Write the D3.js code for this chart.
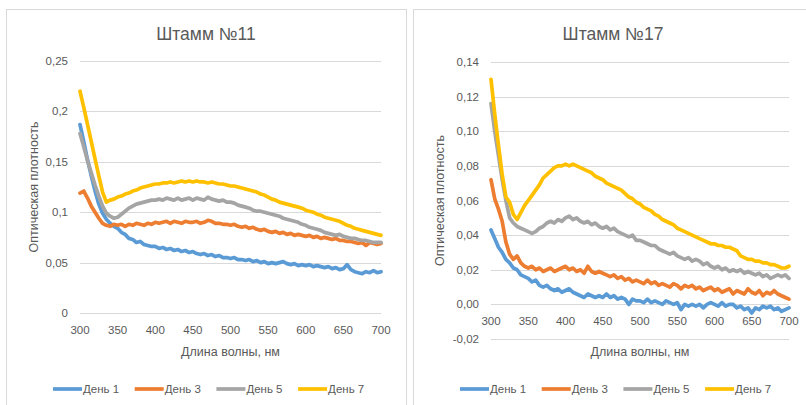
<!DOCTYPE html>
<html>
<head>
<meta charset="utf-8">
<script src="https://cdn.jsdelivr.net/npm/d3@7"></script>
<style>
  body { margin: 0; background: #fff; }
  svg text { font-family: "Liberation Sans", Arial, sans-serif; fill: #595959; }
  .grid line { stroke: #d9d9d9; stroke-width: 1; }
  .series { fill: none; stroke-width: 3.7; stroke-linejoin: round; stroke-linecap: round; }
</style>
</head>
<body>
<svg id="chart" width="806" height="405"></svg>
<script>
// wavelength, nm (every 5 nm)
var wavelengths = d3.range(300, 701, 5);

var dayNames = ["День 1", "День 3", "День 5", "День 7"];
var dayColors = ["#5b9bd5", "#ed7d31", "#a5a5a5", "#ffc000"];

// Штамм №11
var s11day1 = [.187,.170,.152,.136,.121,.108,.099,.093,.089,.086,.084,.080,.078,.074,.073,.070,.071,.068,.067,.066,
  .066,.064,.065,.063,.064,.062,.063,.061,.062,.060,.061,.059,.058,.059,.057,.058,.056,.057,.055,.055,
  .054,.055,.053,.053,.052,.053,.051,.052,.050,.051,.049,.050,.049,.050,.051,.049,.048,.049,.047,.048,
  .047,.048,.046,.047,.046,.045,.046,.044,.045,.043,.044,.048,.043,.041,.040,.039,.041,.040,.042,.040,.041];
var s11day3 = [.119,.121,.114,.106,.100,.094,.089,.087,.086,.088,.087,.088,.086,.088,.087,.089,.088,.087,.089,.088,
  .090,.089,.090,.091,.089,.091,.090,.089,.091,.090,.090,.091,.089,.090,.092,.091,.089,.089,.088,.088,
  .087,.088,.086,.085,.086,.084,.085,.083,.082,.083,.081,.080,.081,.079,.080,.078,.079,.077,.078,.077,
  .076,.077,.075,.076,.074,.075,.074,.073,.074,.072,.072,.071,.071,.070,.069,.070,.067,.070,.069,.068,.069];
var s11day5 = [.178,.165,.151,.139,.127,.116,.106,.099,.096,.094,.095,.098,.101,.104,.106,.108,.109,.110,.111,.112,
  .112,.113,.112,.114,.113,.112,.114,.112,.113,.114,.112,.114,.113,.112,.115,.113,.112,.111,.112,.110,
  .110,.109,.107,.106,.105,.104,.102,.101,.101,.100,.099,.098,.097,.096,.094,.093,.092,.091,.090,.088,
  .087,.085,.084,.083,.082,.080,.079,.078,.077,.078,.076,.075,.074,.074,.073,.072,.072,.071,.070,.070,.070];
var s11day7 = [.220,.204,.187,.170,.153,.136,.120,.110,.112,.113,.115,.116,.118,.119,.121,.122,.124,.125,.126,.127,
  .128,.128,.129,.129,.130,.129,.130,.131,.130,.131,.130,.131,.130,.130,.129,.130,.129,.128,.128,.127,
  .126,.126,.125,.124,.123,.122,.121,.120,.118,.117,.115,.113,.112,.110,.109,.108,.107,.106,.105,.104,
  .102,.101,.100,.098,.097,.095,.094,.093,.092,.091,.089,.087,.086,.084,.083,.082,.081,.080,.079,.078,.077];

// Штамм №17
var s17day1 = [.043,.038,.033,.030,.026,.024,.021,.020,.017,.016,.015,.013,.014,.011,.010,.011,.009,.008,.009,.007,
  .008,.009,.007,.006,.005,.004,.006,.005,.004,.005,.004,.006,.004,.005,.003,.004,.003,.000,.003,.002,
  .002,.001,.003,.001,.002,.001,.000,.002,.001,.000,.001,-.003,.000,-.001,.000,-.001,.000,-.002,.000,.001,
  .000,-.001,.001,-.001,.000,.000,-.002,-.001,-.003,-.002,-.005,-.002,-.003,-.001,-.002,-.001,-.003,-.002,-.004,-.003,-.002];
var s17day3 = [.072,.061,.055,.048,.036,.029,.026,.028,.024,.022,.021,.022,.020,.021,.019,.020,.021,.019,.020,.021,
  .022,.020,.021,.019,.020,.018,.022,.019,.018,.019,.018,.017,.016,.017,.015,.016,.014,.015,.013,.014,
  .013,.012,.014,.012,.013,.011,.012,.011,.010,.012,.011,.009,.011,.010,.011,.009,.010,.008,.009,.010,
  .008,.009,.007,.008,.009,.006,.008,.007,.006,.009,.007,.006,.008,.005,.007,.006,.008,.006,.005,.004,.003];
var s17day5 = [.116,.100,.086,.072,.060,.050,.047,.045,.044,.043,.042,.041,.042,.044,.045,.047,.048,.047,.049,.048,
  .050,.051,.049,.050,.048,.047,.048,.046,.047,.045,.044,.045,.043,.044,.042,.041,.040,.039,.040,.037,
  .037,.036,.035,.034,.034,.032,.031,.030,.029,.030,.028,.027,.026,.027,.025,.026,.025,.023,.024,.022,
  .021,.022,.020,.021,.019,.020,.019,.020,.018,.019,.018,.017,.018,.016,.017,.015,.016,.017,.016,.017,.015];
var s17day7 = [.130,.110,.092,.075,.062,.059,.052,.049,.053,.057,.060,.063,.066,.069,.073,.075,.077,.079,.080,.080,
  .081,.080,.081,.080,.079,.078,.077,.076,.074,.073,.072,.070,.069,.068,.067,.066,.064,.062,.061,.059,
  .058,.056,.055,.054,.052,.051,.049,.048,.047,.046,.044,.043,.042,.041,.040,.039,.038,.037,.036,.035,
  .035,.034,.034,.033,.033,.032,.031,.028,.027,.026,.026,.025,.025,.024,.024,.023,.023,.022,.021,.021,.022];

var xTicks = [300, 350, 400, 450, 500, 550, 600, 650, 700];
var s11yTicks = [0, 0.05, 0.1, 0.15, 0.2, 0.25];
var s11yLabels = ["0", "0,05", "0,1", "0,15", "0,2", "0,25"];
var s17yTicks = [-0.02, 0, 0.02, 0.04, 0.06, 0.08, 0.10, 0.12, 0.14];
var s17yLabels = ["-0,02", "0,00", "0,02", "0,04", "0,06", "0,08", "0,10", "0,12", "0,14"];

var svg = d3.select("#chart");

function drawChart(cfg) {
  var g = svg.append("g");

  g.append("rect")
    .attr("x", cfg.frameX + 0.5).attr("y", 9.5)
    .attr("width", 400).attr("height", 420)
    .attr("fill", "#fff").attr("stroke", "#d9d9d9");

  var x = d3.scaleLinear().domain([300, 700]).range([cfg.left, cfg.right]);
  var y = d3.scaleLinear().domain(cfg.yDomain).range([cfg.bottom, cfg.top]);

  // gridlines
  g.append("g").attr("class", "grid")
    .selectAll("line").data(cfg.yTicks).enter().append("line")
    .attr("x1", cfg.left).attr("x2", cfg.right)
    .attr("y1", function(d) { return Math.round(y(d)) + 0.5; })
    .attr("y2", function(d) { return Math.round(y(d)) + 0.5; });

  // y tick labels
  g.selectAll(".ylab").data(cfg.yTicks).enter().append("text")
    .attr("class", "ylab")
    .attr("x", cfg.left - 12)
    .attr("y", function(d) { return y(d); })
    .attr("dy", "0.35em")
    .attr("text-anchor", "end")
    .style("font-size", "11.5px")
    .text(function(d, i) { return cfg.yLabels[i]; });

  // x tick labels (sit at the zero line)
  var y0 = y(0);
  g.selectAll(".xlab").data(xTicks).enter().append("text")
    .attr("class", "xlab")
    .attr("x", function(d) { return x(d); })
    .attr("y", y0 + 17)
    .attr("dy", "0.35em")
    .attr("text-anchor", "middle")
    .style("font-size", "11.5px")
    .text(function(d) { return d; });

  // series
  var line = d3.line()
    .x(function(d, i) { return x(wavelengths[i]); })
    .y(function(d) { return y(d); });

  cfg.series.forEach(function(s, i) {
    g.append("path")
      .attr("class", "series")
      .attr("d", line(s))
      .attr("stroke", dayColors[i]);
  });

  // title
  g.append("text")
    .attr("x", cfg.titleX).attr("y", 40)
    .attr("text-anchor", "middle")
    .style("font-size", "17.5px")
    .text(cfg.title);

  // axis titles
  g.append("text")
    .attr("x", (cfg.left + cfg.right) / 2).attr("y", 356)
    .attr("text-anchor", "middle")
    .style("font-size", "12.5px")
    .text("Длина волны, нм");

  g.append("text")
    .attr("transform", "translate(" + cfg.yTitleX + "," + ((cfg.top + cfg.bottom) / 2) + ") rotate(-90)")
    .attr("text-anchor", "middle")
    .style("font-size", "12.5px")
    .text("Оптическая плотность");

  // legend
  var leg = g.selectAll(".leg").data(dayNames).enter().append("g")
    .attr("class", "leg")
    .attr("transform", function(d, i) { return "translate(" + (cfg.legendX + i * 81.7) + ",389)"; });
  leg.append("line")
    .attr("x1", 0).attr("x2", 29).attr("y1", 0).attr("y2", 0)
    .attr("stroke", function(d, i) { return dayColors[i]; })
    .attr("stroke-width", 3.7);
  leg.append("text")
    .attr("x", 30).attr("dy", "0.35em")
    .style("font-size", "11.5px")
    .text(function(d) { return d; });
}

drawChart({
  frameX: 6, left: 80, right: 381, top: 61, bottom: 313,
  yDomain: [0, 0.25], yTicks: s11yTicks, yLabels: s11yLabels,
  series: [s11day1, s11day3, s11day5, s11day7],
  title: "Штамм №11", titleX: 206, yTitleX: 38, legendX: 53
});

drawChart({
  frameX: 413, left: 491, right: 789, top: 62, bottom: 339,
  yDomain: [-0.02, 0.14], yTicks: s17yTicks, yLabels: s17yLabels,
  series: [s17day1, s17day3, s17day5, s17day7],
  title: "Штамм №17", titleX: 613, yTitleX: 444, legendX: 460
});
</script>
</body>
</html>
